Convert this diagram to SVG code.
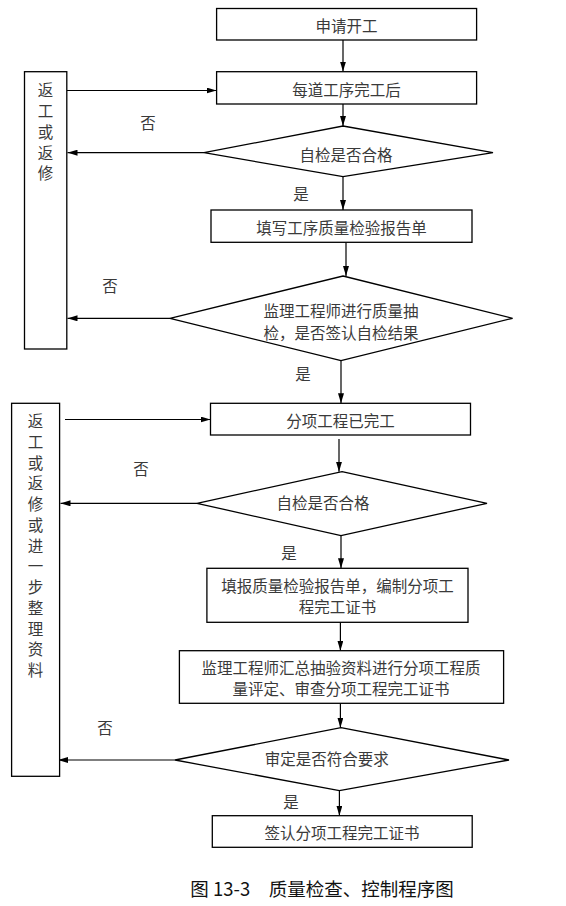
<svg xmlns="http://www.w3.org/2000/svg" width="566" height="906" viewBox="0 0 566 906">
<style>
.box{fill:#fff;stroke:#000;stroke-width:1.3}
.line{fill:none;stroke:#000;stroke-width:1.2;marker-end:url(#ah)}
text{font-family:"Noto Sans CJK SC","Noto Sans",sans-serif;font-size:15.5px;fill:#3a3a3a;text-anchor:middle;dominant-baseline:central}
.lbl{font-size:15.5px}
.cap{font-size:18.5px;fill:#111}
</style>
<defs>
<marker id="ah" viewBox="0 0 10 6" refX="10" refY="3" markerWidth="10" markerHeight="6" markerUnits="userSpaceOnUse" orient="auto">
<path d="M0,0 L10,3 L0,6 z" fill="#000"/>
</marker>
</defs>
<rect width="566" height="906" fill="#fff"/>
<g id="connectors">
<line class="line" x1="343" y1="40" x2="343" y2="71.5"/>
<line class="line" x1="66.8" y1="90.5" x2="216.5" y2="90.5"/>
<line class="line" x1="343" y1="104" x2="343" y2="126"/>
<line class="line" x1="204" y1="152.7" x2="67.5" y2="152.7"/>
<line class="line" x1="343" y1="176.7" x2="343" y2="210"/>
<line class="line" x1="346" y1="242.3" x2="346" y2="276"/>
<line class="line" x1="170" y1="318.3" x2="67.5" y2="318.3"/>
<line class="line" x1="341" y1="360.7" x2="341" y2="403.3"/>
<line class="line" x1="65" y1="419.5" x2="210.5" y2="419.5"/>
<line class="line" x1="339" y1="439" x2="339" y2="471.7"/>
<line class="line" x1="197" y1="503.3" x2="60.5" y2="503.3"/>
<line class="line" x1="341" y1="535.7" x2="341" y2="568.3"/>
<line class="line" x1="340.4" y1="622.3" x2="340.4" y2="650.7"/>
<line class="line" x1="340.4" y1="703.3" x2="340.4" y2="727.7"/>
<line class="line" x1="175" y1="760" x2="58" y2="760"/>
<line class="line" x1="339.4" y1="790.7" x2="339.4" y2="815.7"/>
<text class="lbl" x="148" y="122">否</text>
<text class="lbl" x="301" y="193">是</text>
<text class="lbl" x="110" y="285">否</text>
<text class="lbl" x="303" y="373">是</text>
<text class="lbl" x="141" y="468">否</text>
<text class="lbl" x="289" y="552">是</text>
<text class="lbl" x="105" y="727">否</text>
<text class="lbl" x="291" y="801">是</text>
</g>
<g id="n_start">
<rect class="box" x="216.6" y="8.5" width="260" height="31.5"/>
<text x="346.5" y="25">申请开工</text>
</g>
<g id="n_each">
<rect class="box" x="216.6" y="71.7" width="260" height="32.3"/>
<text x="346.5" y="89">每道工序完工后</text>
</g>
<g id="n_rework1">
<rect class="box" x="24.5" y="71.7" width="42.3" height="277.3"/>
<text x="45.6" y="89">返</text>
<text x="45.6" y="110">工</text>
<text x="45.6" y="131">或</text>
<text x="45.6" y="152">返</text>
<text x="45.6" y="172">修</text>
</g>
<g id="n_check1">
<polygon class="box" points="343,126 493,152.7 343,176.7 204,152.7"/>
<text x="346" y="154">自检是否合格</text>
</g>
<g id="n_report1">
<rect class="box" x="211" y="210" width="261" height="32.3"/>
<text x="341.5" y="226.7">填写工序质量检验报告单</text>
</g>
<g id="n_supervise1">
<polygon class="box" points="343,276 512.6,318.3 341,360.7 170,318.3"/>
<text x="341" y="310">监理工程师进行质量抽</text>
<text x="341" y="331.7">检，是否签认自检结果</text>
</g>
<g id="n_rework2">
<rect class="box" x="11.6" y="403.3" width="48" height="373"/>
<text x="35.5" y="420">返</text>
<text x="35.5" y="440.75">工</text>
<text x="35.5" y="461.5">或</text>
<text x="35.5" y="482.25">返</text>
<text x="35.5" y="503">修</text>
<text x="35.5" y="523.75">或</text>
<text x="35.5" y="544.5">进</text>
<text x="35.5" y="565.25">一</text>
<text x="35.5" y="586">步</text>
<text x="35.5" y="606.75">整</text>
<text x="35.5" y="627.5">理</text>
<text x="35.5" y="648.25">资</text>
<text x="35.5" y="669">料</text>
</g>
<g id="n_sub_done">
<rect class="box" x="210.5" y="403.3" width="260" height="31.7"/>
<text x="340.5" y="420">分项工程已完工</text>
</g>
<g id="n_check2">
<polygon class="box" points="342,471.7 487,503.3 341,535.7 197,503.3"/>
<text x="323" y="502.3">自检是否合格</text>
</g>
<g id="n_report2">
<rect class="box" x="206.9" y="568.3" width="261.1" height="54"/>
<text x="337.5" y="584.5">填报质量检验报告单，编制分项工</text>
<text x="337.5" y="606">程完工证书</text>
</g>
<g id="n_evaluate">
<rect class="box" x="179.4" y="650.7" width="324.2" height="52.6"/>
<text x="341" y="667.3">监理工程师汇总抽验资料进行分项工程质</text>
<text x="341" y="688.3">量评定、审查分项工程完工证书</text>
</g>
<g id="n_check3">
<polygon class="box" points="341,727.7 509,760 339.4,790.7 175,760"/>
<text x="326.7" y="758.3">审定是否符合要求</text>
</g>
<g id="n_sign">
<rect class="box" x="212.3" y="815.7" width="259.9" height="31.6"/>
<text x="342" y="831.7">签认分项工程完工证书</text>
</g>
<g id="caption">
<text class="cap" x="322" y="888">图 13-3　质量检查、控制程序图</text>
</g>
</svg>
